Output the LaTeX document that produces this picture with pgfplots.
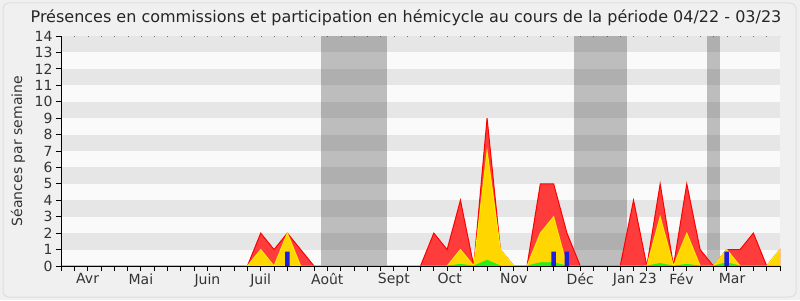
\documentclass[border=0pt]{standalone}
\usepackage{fontspec}
\setmainfont{DejaVu Sans}
\usepackage{pgfplots}
\pgfplotsset{compat=1.18}
\definecolor{bgout}{RGB}{240,240,240}
\definecolor{framec}{RGB}{222,222,222}
\definecolor{stripe}{RGB}{230,230,230}
\definecolor{plotbg}{RGB}{250,250,250}
\definecolor{redfill}{RGB}{255,60,60}
\definecolor{redline}{RGB}{255,0,0}
\definecolor{yelfill}{RGB}{255,214,0}
\definecolor{yelline}{RGB}{255,235,0}
\definecolor{grnfill}{RGB}{40,240,20}
\definecolor{bluebar}{RGB}{30,30,220}
\definecolor{recess}{RGB}{50,50,50}
\definecolor{txt}{RGB}{51,51,51}
\begin{document}
\begin{tikzpicture}[x=1pt,y=1pt]
\useasboundingbox (0,0) rectangle (800,300);
\fill[bgout] (0,0) rectangle (800,300);
\draw[framec, rounded corners=6pt, line width=1pt] (3,3) rectangle (796,297);
\node[font=\fontsize{16}{19}\selectfont, text=black!85] at (406,282) {Présences en commissions et participation en hémicycle au cours de la période 04/22 - 03/23};
\begin{axis}[
  at={(61pt,34pt)}, anchor=south west,
  scale only axis, width=719pt, height=230pt,
  xmin=0, xmax=54, ymin=0, ymax=14,
  axis x line*=bottom, axis y line*=left,
  axis line style={-, black, line width=0.8pt},
  axis on top,
  xtick={0,...,54}, xticklabels={},
  ytick={0,...,14},
  tick align=outside, major tick length=5pt,
  tick style={black, line width=0.8pt},
  ticklabel style={font=\fontsize{14}{16}\selectfont, text=txt},
  /pgf/number format/assume math mode=true,
  extra x ticks={2,6,11,15,20,25,29.2,34,39,43.1,46.6,50.4},
  extra x tick labels={Avr,Mai,Juin,Juil,Août,Sept,Oct,Nov,Déc,Jan 23,Fév,Mar},
  extra x tick style={major tick length=0pt, xticklabel style={yshift=-4pt}},
  ylabel={Séances par semaine},
  ylabel style={at={(axis description cs:-0.0598,0.5)}, anchor=center, font=\fontsize{14}{16}\selectfont, text=txt},
]
\fill[plotbg] (axis cs:0,0) rectangle (axis cs:54,14);
\fill[stripe] (axis cs:0,1) rectangle (axis cs:54,2);
\fill[stripe] (axis cs:0,3) rectangle (axis cs:54,4);
\fill[stripe] (axis cs:0,5) rectangle (axis cs:54,6);
\fill[stripe] (axis cs:0,7) rectangle (axis cs:54,8);
\fill[stripe] (axis cs:0,9) rectangle (axis cs:54,10);
\fill[stripe] (axis cs:0,11) rectangle (axis cs:54,12);
\fill[stripe] (axis cs:0,13) rectangle (axis cs:54,14);
\draw[black!55, line width=0.8pt, dash pattern=on 1pt off 12.31pt] (axis cs:0,14) -- (axis cs:54,14);
% recess periods
\addplot[fill=recess, fill opacity=0.3, draw=none] coordinates {(19.5,14) (24.5,14)} \closedcycle;
\addplot[fill=recess, fill opacity=0.3, draw=none] coordinates {(38.5,14) (42.5,14)} \closedcycle;
\addplot[fill=recess, fill opacity=0.3, draw=none] coordinates {(48.5,14) (49.5,14)} \closedcycle;
% red
\addplot[fill=redfill, draw=redline, line width=1pt] coordinates {
(0,0) (14,0) (15,2) (16,1) (17,2) (18,1) (19,0) (27,0) (28,2) (29,1) (30,4) (31,0) (32,9) (33,1) (34,0) (35,0) (36,5) (37,5) (38,2) (39,0) (42,0) (43,4) (44,0) (45,5) (46,0) (47,5) (48,1) (49,0) (50,1) (51,1) (52,2) (53,0) (54,1)} \closedcycle;
% yellow
\addplot[fill=yelfill, draw=yelline, line width=1pt] coordinates {
(14,0) (15,1) (16,0) (17,2) (18,0) (29,0) (30,1) (31,0) (32,7) (33,1) (34,0) (35,0) (36,2) (37,3) (38,0) (44,0) (45,3) (46,0) (47,2) (48,0) (49,0) (50,1) (51,0) (53,0) (54,1)} \closedcycle;
% green
\addplot[fill=grnfill, draw=grnfill, line width=0.8pt] coordinates {
(29,0) (30,0.1) (31,0) (32,0.35) (33,0) (35,0) (36,0.2) (37,0.2) (38,0) (44,0) (45,0.15) (46,0) (47,0.1) (48,0) (49,0) (50,0.2) (51,0) (54,0)} \closedcycle;
% blue bars
\addplot[ybar, bar width=4.5pt, fill=bluebar, draw=none] coordinates {(17,0.87) (37,0.87) (38,0.87) (50,0.87)};
\end{axis}
\end{tikzpicture}
\end{document}
